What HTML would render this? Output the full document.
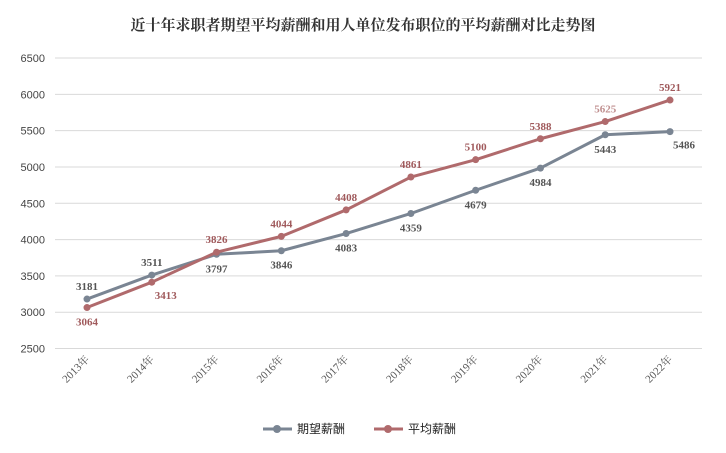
<!DOCTYPE html>
<html><head><meta charset="utf-8"><style>
body{margin:0;background:#fff}
svg{display:block}
</style></head><body>
<svg id="chart" width="726" height="453" xmlns="http://www.w3.org/2000/svg">
<text x="363" y="30" text-anchor="middle" font-family="'Liberation Serif','Noto Serif CJK SC',serif" font-size="15" font-weight="bold" fill="#333">近十年求职者期望平均薪酬和用人单位发布职位的平均薪酬对比走势图</text>
<g id="grid"></g><g id="xaxis"></g><g id="series"></g>
<g font-family="'Liberation Sans','Noto Sans CJK SC',sans-serif" font-size="12" fill="#222">
<g>
<line x1="263" y1="429" x2="292" y2="429" stroke="#7a8593" stroke-width="3"/><circle cx="277" cy="429" r="4" fill="#7a8593"/>
<text x="297" y="433">期望薪酬</text></g>
<g>
<line x1="374" y1="429" x2="403" y2="429" stroke="#b06a6c" stroke-width="3"/><circle cx="388" cy="429" r="4" fill="#b06a6c"/>
<text x="408" y="433">平均薪酬</text></g>
</g>
</svg>
<script>
const categories=["2013年","2014年","2015年","2016年","2017年","2018年","2019年","2020年","2021年","2022年"];
const expectedSalary=[3181,3511,3797,3846,4083,4359,4679,4984,5443,5486];
const averageSalary=[3064,3413,3826,4044,4408,4861,5100,5388,5625,5921];
const yTicks=[2500,3000,3500,4000,4500,5000,5500,6000,6500];
const expLabelPos=["above","above","below","below","below","below","below","below","below","belowright"];
const avgLabelPos=["below","belowright","above","above","above","above","above","above","above","above"];
const NS="http://www.w3.org/2000/svg";
const x0=87,xStep=(670-87)/9,yTop=58,yBot=348.5,vMin=2500,vMax=6500;
function xPos(i){return x0+i*xStep;}
function yPos(v){return yBot-(v-vMin)/(vMax-vMin)*(yBot-yTop);}
function mk(tag,attrs,parent){const e=document.createElementNS(NS,tag);for(const k in attrs)e.setAttribute(k,attrs[k]);parent.appendChild(e);return e;}
const grid=document.getElementById('grid');
yTicks.forEach(t=>{
  const l=mk('line',{x1:55,x2:702,y1:yPos(t),y2:yPos(t),stroke:'#d9d9d9','stroke-width':1},grid);
  
  
  const tx=mk('text',{x:45,y:yPos(t)+4,'text-anchor':'end','font-family':"'Liberation Sans',sans-serif",'font-size':11,fill:'#444'},grid);
  tx.textContent=t;
  
  
});
const xa=document.getElementById('xaxis');
categories.forEach((c,i)=>{
  const x=xPos(i)+3,y=360;
  const tx=mk('text',{x:x,y:y,'text-anchor':'end',transform:`rotate(-45 ${x} ${y})`,'font-family':"'Liberation Serif','Noto Serif CJK SC',serif",'font-size':11,fill:'#555'},xa);
  tx.textContent=c;
  
  
});
const sg=document.getElementById('series');
function drawSeries(vals,color,labelColor,pos,name){
  const g=mk('g',{},sg);
  
  
  const p=mk('polyline',{points:vals.map((v,i)=>xPos(i)+','+yPos(v)).join(' '),fill:'none',stroke:color,'stroke-width':3,'stroke-linejoin':'round'},g);
  
  
  vals.forEach((v,i)=>{
    const c=mk('circle',{cx:xPos(i),cy:yPos(v),r:3.5,fill:color},g);
    
    
    let lx=xPos(i),ly=yPos(v);
    const ps=pos[i];
    if(ps==='above')ly-=9;else if(ps==='below')ly+=18;else{lx+=14;ly+=17;}
    const t=mk('text',{x:lx,y:ly,'text-anchor':'middle','font-family':"'Liberation Serif',serif",'font-size':11,'font-weight':'bold',fill:(name==='average-series'&&i===8)?'#c09090':labelColor},g);
    t.textContent=v;
    
    
  });
}
drawSeries(expectedSalary,'#7a8593','#555','x'.length?expLabelPos:[], 'expected-series');
drawSeries(averageSalary,'#b06a6c','#a05a5c',avgLabelPos,'average-series');
</script>
</body></html>
